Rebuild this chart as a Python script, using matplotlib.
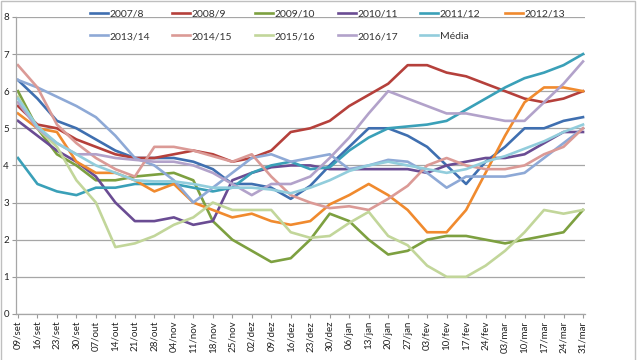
import matplotlib.pyplot as plt
from matplotlib.legend import Legend
from matplotlib.patches import Rectangle

plt.rcParams['font.family'] = ['Lato', 'DejaVu Sans']

semanas = ['09/set', '16/set', '23/set', '30/set', '07/out', '14/out', '21/out', '28/out',
           '04/nov', '11/nov', '18/nov', '25/nov', '02/dez', '09/dez', '16/dez', '23/dez',
           '30/dez', '06/jan', '13/jan', '20/jan', '27/jan', '03/fev', '10/fev', '17/fev',
           '24/fev', '03/mar', '10/mar', '17/mar', '24/mar', '31/mar']

s2007 = [6.3, 5.8, 5.2, 5.0, 4.7, 4.4, 4.2, 4.2, 4.2, 4.1, 3.9, 3.5, 3.5, 3.4, 3.1,
         3.45, 4.0, 4.5, 5.0, 5.0, 4.8, 4.5, 4.0, 3.5, 4.1, 4.5, 5.0, 5.0, 5.2, 5.3]
s2008 = [5.6, 5.1, 5.0, 4.7, 4.5, 4.3, 4.2, 4.2, 4.3, 4.4, 4.3, 4.1, 4.2, 4.4, 4.9,
         5.0, 5.2, 5.6, 5.9, 6.2, 6.7, 6.7, 6.5, 6.4, 6.2, 6.0, 5.8, 5.7, 5.8, 6.0]
s2009 = [6.0, 5.0, 4.3, 4.0, 3.6, 3.6, 3.7, 3.75, 3.8, 3.6, 2.5, 2.0, 1.7, 1.4, 1.5,
         2.0, 2.7, 2.5, 2.0, 1.6, 1.7, 2.0, 2.1, 2.1, 2.0, 1.9, 2.0, 2.1, 2.2, 2.8]
s2010 = [5.2, 4.8, 4.4, 4.1, 3.7, 3.0, 2.5, 2.5, 2.6, 2.4, 2.5, 3.6, 3.8, 3.95, 4.0,
         4.0, 3.9, 3.9, 3.9, 3.9, 3.9, 3.8, 4.0, 4.1, 4.2, 4.2, 4.3, 4.6, 4.9, 4.9]
s2011 = [4.2, 3.5, 3.3, 3.2, 3.4, 3.4, 3.5, 3.5, 3.5, 3.4, 3.3, 3.4, 3.8, 4.0, 4.1,
         3.9, 3.95, 4.4, 4.75, 5.0, 5.05, 5.1, 5.2, 5.5, 5.8, 6.1, 6.35, 6.5, 6.7, 7.0]
s2012 = [5.4, 5.0, 4.9, 4.1, 3.8, 3.8, 3.6, 3.3, 3.5, 3.0, 2.8, 2.6, 2.7, 2.5, 2.4,
         2.5, 2.95, 3.2, 3.5, 3.2, 2.8, 2.2, 2.2, 2.8, 3.8, 4.8, 5.7, 6.1, 6.1, 6.0]
s2013 = [6.3, 6.1, 5.85, 5.6, 5.3, 4.8, 4.2, 4.0, 3.6, 3.0, 3.4, 3.8, 4.2, 4.3, 4.1,
         4.2, 4.3, 3.9, 4.0, 4.15, 4.1, 3.8, 3.4, 3.7, 3.7, 3.7, 3.8, 4.2, 4.6, 5.0]
s2014 = [6.7, 6.1, 5.1, 4.6, 4.2, 3.9, 3.7, 4.5, 4.5, 4.4, 4.25, 4.1, 4.3, 3.7, 3.2,
         3.0, 2.85, 2.9, 2.8, 3.1, 3.45, 4.0, 4.2, 4.0, 3.9, 3.9, 4.0, 4.3, 4.5, 5.0]
s2015 = [5.85, 5.0, 4.5, 3.6, 3.0, 1.8, 1.9, 2.1, 2.4, 2.6, 3.0, 2.8, 2.8, 2.8, 2.2,
         2.05, 2.1, 2.45, 2.75, 2.1, 1.85, 1.3, 1.0, 1.0, 1.3, 1.7, 2.2, 2.8, 2.7, 2.8]
s2016 = [5.7, 5.0, 4.6, 4.3, 4.3, 4.2, 4.15, 4.1, 4.1, 4.0, 3.8, 3.5, 3.2, 3.5, 3.5,
         3.7, 4.2, 4.75, 5.4, 6.0, 5.8, 5.6, 5.4, 5.4, 5.3, 5.2, 5.2, 5.7, 6.2, 6.8]
media = [5.8, 5.05, 4.6, 4.3, 4.0, 3.8, 3.6, 3.57, 3.57, 3.5, 3.4, 3.4, 3.4, 3.35, 3.25,
         3.4, 3.6, 3.85, 4.0, 4.1, 4.0, 3.9, 3.8, 3.9, 4.1, 4.25, 4.45, 4.65, 4.9, 5.1]

series = [
    ('2007/8', s2007, '#3F6FB0'),
    ('2008/9', s2008, '#B5403B'),
    ('2009/10', s2009, '#7DA040'),
    ('2010/11', s2010, '#6A4C93'),
    ('2011/12', s2011, '#3AA0B8'),
    ('2012/13', s2012, '#F08A2E'),
    ('2013/14', s2013, '#8EA9D6'),
    ('2014/15', s2014, '#DB9A96'),
    ('2015/16', s2015, '#C2D69A'),
    ('2016/17', s2016, '#B2A2CA'),
    ('Média', media, '#92CDDC'),
]

fig = plt.figure(figsize=(6.4, 3.6), dpi=100)
ax = fig.add_axes([0.025, 0.128, 0.889, 0.825])

x = list(range(len(semanas)))
linhas = []
for nome, vals, cor in series:
    l, = ax.plot(x, vals, color=cor, lw=1.9, label=nome, solid_joinstyle='round')
    linhas.append(l)

ax.set_ylim(0, 8)
ax.set_xlim(-0.1, 29.1)
ax.set_yticks(range(0, 9))
ax.set_xticks(x)
ax.set_xticklabels(semanas, rotation=90)
ax.tick_params(axis='both', labelsize=7, colors='#9A9A9A', labelcolor='#222222', length=3, width=0.8)
ax.tick_params(axis='y', pad=2)
ax.tick_params(axis='x', pad=2)
ax.grid(axis='y', color='#A6A6A6', lw=0.9)
ax.set_axisbelow(True)
for lado in ['top', 'right']:
    ax.spines[lado].set_visible(False)
for lado in ['left', 'bottom']:
    ax.spines[lado].set_color('#A6A6A6')
    ax.spines[lado].set_linewidth(0.9)

# legenda: 6 colunas em posicoes fixas, 2 linhas
col_x = [90, 172, 255, 338, 420, 505]
for c, px in enumerate(col_x):
    idx = [i for i in (c, c + 6) if i < len(series)]
    leg = Legend(ax, [linhas[i] for i in idx], [series[i][0] for i in idx],
                 loc='upper left', bbox_to_anchor=(px / 640, 0.975),
                 bbox_transform=fig.transFigure, frameon=False, fontsize=7.5,
                 handlelength=1.7, handletextpad=0.2, labelspacing=1.3,
                 borderpad=0, borderaxespad=0, labelcolor='#333333')
    ax.add_artist(leg)

fig.patches.append(Rectangle((0.002, -0.01), 0.99, 1.007, transform=fig.transFigure,
                             fill=False, edgecolor='#BFBFBF', lw=1))

fig.savefig('out.png', dpi=100)
